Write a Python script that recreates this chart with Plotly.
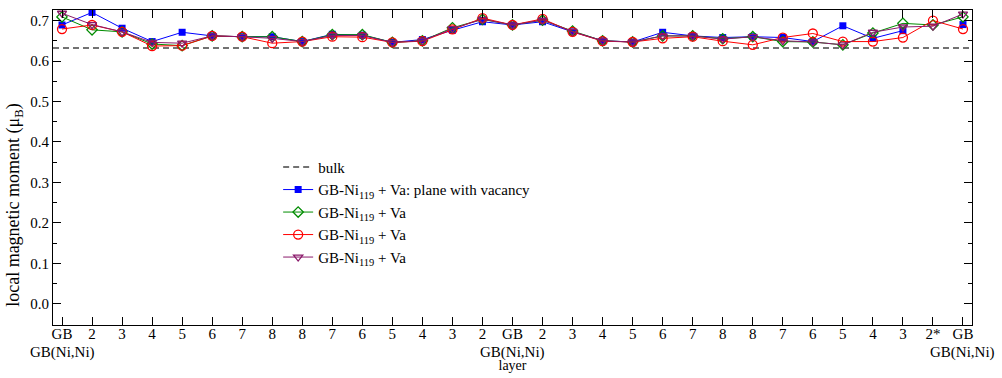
import plotly.graph_objects as go

# Layer labels along the slab (two grain boundaries, periodic cell)
layers = ["GB", "2", "3", "4", "5", "6", "7", "8", "8", "7", "6", "5", "4", "3", "2",
          "GB", "2", "3", "4", "5", "6", "7", "8", "8", "7", "6", "5", "4", "3", "2*", "GB"]
gb_site_pos = [0, 15, 30]
gb_site_label = "GB(Ni,Ni)"

bulk_moment = 0.632

# Local magnetic moments (mu_B) per layer
m_vac_plane = [0.689, 0.720, 0.681, 0.648, 0.671, 0.662, 0.660, 0.660, 0.648, 0.666,
               0.664, 0.646, 0.653, 0.676, 0.697, 0.689, 0.697, 0.672, 0.650, 0.647,
               0.671, 0.662, 0.658, 0.660, 0.658, 0.648, 0.687, 0.656, 0.675, None, 0.690]
m_va_green = [0.709, 0.677, 0.672, 0.642, 0.638, 0.662, 0.660, 0.660, 0.648, 0.665,
              0.665, 0.646, 0.650, 0.682, 0.703, 0.689, 0.701, 0.674, 0.650, 0.647,
              0.662, 0.662, 0.655, 0.660, 0.648, 0.647, 0.640, 0.669, 0.693, 0.689, 0.709]
m_va_red = [0.679, 0.689, 0.672, 0.637, 0.638, 0.662, 0.660, 0.644, 0.648, 0.660,
            0.659, 0.646, 0.649, 0.678, 0.706, 0.689, 0.704, 0.672, 0.649, 0.647,
            0.656, 0.660, 0.649, 0.640, 0.658, 0.668, 0.648, 0.648, 0.658, 0.700, 0.679]
m_va_purple = [0.718, 0.690, 0.672, 0.646, 0.644, 0.662, 0.660, 0.656, 0.648, 0.663,
               0.663, 0.646, 0.650, 0.680, 0.703, 0.689, 0.701, 0.673, 0.650, 0.647,
               0.662, 0.662, 0.654, 0.660, 0.650, 0.647, 0.640, 0.671, 0.684, 0.686, 0.716]

x_range = [-0.3, 30.3]
y_range = [-0.052, 0.726]

xs = list(range(len(layers)))

FONT = "Liberation Serif, Times New Roman, serif"
FS = 15
sub = "GB-Ni<sub>119</sub> + Va"

fig = go.Figure()
fig.add_trace(go.Scatter(x=x_range, y=[bulk_moment, bulk_moment], mode="lines",
                         line=dict(color="#444444", width=1.5, dash="6px,4px"),
                         name="bulk"))
fig.add_trace(go.Scatter(x=xs, y=m_vac_plane, mode="lines+markers",
                         line=dict(color="#0000ff", width=1),
                         marker=dict(symbol="square", size=7, color="#0000ff"),
                         name=sub + ": plane with vacancy"))
fig.add_trace(go.Scatter(x=xs, y=m_va_green, mode="lines+markers",
                         line=dict(color="#008c00", width=1),
                         marker=dict(symbol="diamond-open", size=8, color="#008c00",
                                     line=dict(width=1.3)),
                         name=sub))
fig.add_trace(go.Scatter(x=xs, y=m_va_red, mode="lines+markers",
                         line=dict(color="#ff0000", width=1),
                         marker=dict(symbol="circle-open", size=9, color="#ff0000",
                                     line=dict(width=1.3)),
                         name=sub))
fig.add_trace(go.Scatter(x=xs, y=m_va_purple, mode="lines+markers",
                         line=dict(color="#8b1a6b", width=1),
                         marker=dict(symbol="triangle-down-open", size=8, color="#8b1a6b",
                                     line=dict(width=1.3)),
                         name=sub))

# second row of layer labels marking the Ni-Ni grain boundary sites
for p in gb_site_pos:
    fig.add_annotation(x=p, xref="x", y=-0.055, yref="paper", yanchor="top",
                       text=gb_site_label, showarrow=False,
                       font=dict(family=FONT, size=FS, color="black"))

# vertical axis title
fig.add_annotation(x=-0.0415, xref="paper", y=0.381, yref="paper",
                   xanchor="center", yanchor="middle", textangle=-90,
                   text="local magnetic moment (μ<sub>B</sub>)", showarrow=False,
                   font=dict(family=FONT, size=18, color="black"))

fig.update_layout(
    width=1002, height=378,
    margin=dict(l=53, r=30, t=10, b=53),
    paper_bgcolor="white", plot_bgcolor="white",
    font=dict(family=FONT, size=FS, color="black"),
    showlegend=True,
    legend=dict(x=0.245, y=0.553, xanchor="left", yanchor="top",
                bgcolor="rgba(0,0,0,0)", borderwidth=0,
                font=dict(family=FONT, size=FS), tracegroupgap=0,
                itemwidth=30),
)
fig.update_xaxes(
    range=x_range, tickmode="array", tickvals=xs, ticktext=layers, tickangle=0,
    automargin=False, ticklabelstandoff=-5,
    showline=True, linecolor="black", linewidth=1.2, mirror="allticks",
    ticks="inside", ticklen=8, tickcolor="black", tickwidth=1,
    showgrid=False, zeroline=False,
    title=dict(text="layer", standoff=19, font=dict(size=14)),
    tickfont=dict(size=FS),
)
fig.update_yaxes(
    range=y_range, tickmode="array", automargin=False,
    tickvals=[0.0, 0.1, 0.2, 0.3, 0.4, 0.5, 0.6, 0.7],
    ticktext=["0.0", "0.1", "0.2", "0.3", "0.4", "0.5", "0.6", "0.7"],
    showline=True, linecolor="black", linewidth=1.2, mirror="allticks",
    ticks="inside", ticklen=8, tickcolor="black", tickwidth=1,
    minor=dict(tickvals=[0.05, 0.15, 0.25, 0.35, 0.45, 0.55, 0.65],
               ticks="inside", ticklen=4, tickcolor="black"),
    showgrid=False, zeroline=False,
    tickfont=dict(size=FS),
)

fig.write_html("out.html")
